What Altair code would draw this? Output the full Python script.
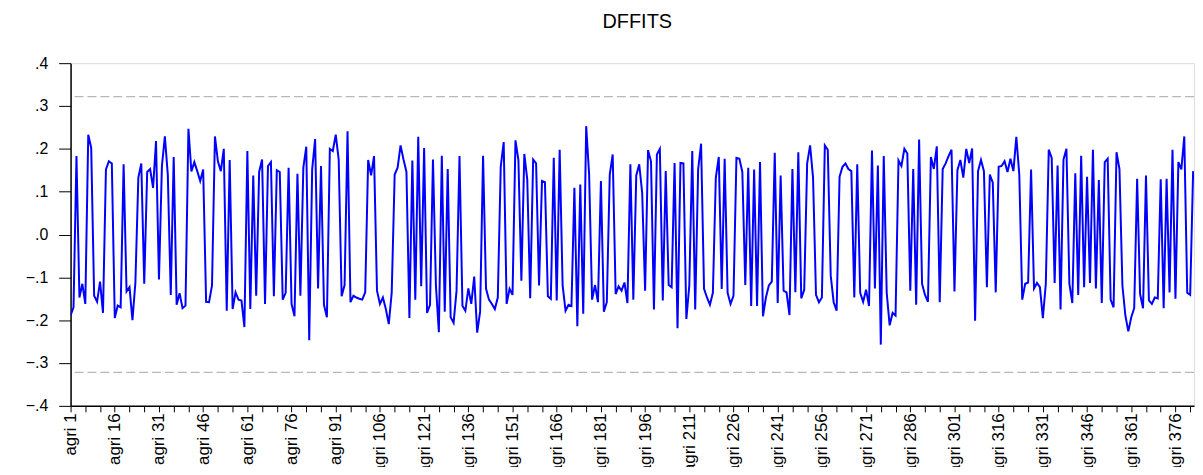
import altair as alt
import pandas as pd

dffits_a = [-0.189, -0.17, 0.183, -0.147, -0.115, -0.162, 0.233, 0.202, -0.143, -0.157,
            -0.11, -0.183, 0.152, 0.171, 0.166, -0.195, -0.166, -0.17, 0.164, -0.133,
            -0.123, -0.2, -0.112, 0.133, 0.166, -0.115, 0.146, 0.153, 0.109, 0.218,
            -0.105, 0.16]
dffits_b = [0.229, 0.14, -0.141, 0.181, -0.164, -0.137, -0.172, -0.166, 0.247, 0.147,
            0.169, 0.148, 0.125, 0.152, -0.157, -0.158, -0.119, 0.229, 0.171, 0.148,
            0.2, -0.178, 0.174, -0.174, -0.135, -0.152, -0.154, -0.216, 0.195, -0.174,
            0.138, -0.143, 0.146, 0.175]
dffits_c = [-0.162, 0.16, 0.169, -0.144, 0.15, 0.146, -0.152, -0.136, 0.156, -0.162,
            -0.191, 0.142, -0.143, 0.156, 0.205, -0.247, 0.152, 0.223, -0.126, 0.16,
            -0.164, -0.193, 0.2, 0.195, 0.233, 0.175, -0.144, -0.118, 0.241, -0.158,
            -0.143, -0.147, -0.15]
dffits_d = [-0.152, -0.135, 0.174, 0.138, 0.183, -0.131, -0.162, -0.147, -0.174, -0.209,
            -0.135, 0.14, 0.156, 0.208, 0.175, 0.146, -0.195, 0.173, -0.152, 0.228,
            -0.121, 0.202, -0.183, -0.164, 0.175, -0.119, -0.228, 0.184, -0.18, 0.153,
            -0.193, -0.206, -0.131, 0.183, -0.166]
dffits_e = [-0.178, -0.126, -0.162, -0.098, -0.229, -0.18, 0.184, -0.126, -0.152,
            -0.162, -0.174, -0.147, 0.158, 0.216, -0.162, -0.127, -0.141, 0.22, 0.174,
            -0.108, 0.188, 0.129, -0.149, 0.175, 0.166, -0.119, 0.125, 0.122, -0.144,
            -0.15, 0.179, -0.154, 0.198]
dffits_f = [-0.118, -0.178, -0.164, -0.167, 0.109, -0.214, 0.117, -0.185, 0.253, 0.14,
            -0.152, -0.118, -0.158, 0.125, -0.18, -0.158, 0.14, 0.187, -0.139, -0.121,
            -0.131, -0.112, -0.16, 0.164, -0.152, 0.138, 0.164, 0.098, -0.131, 0.197,
            0.171, -0.175, 0.187, 0.2]
dffits_g = [-0.154, 0.148, -0.118, -0.123, 0.167, -0.219, 0.167, 0.166, -0.197, -0.119,
            0.195, -0.175, 0.152, 0.212, -0.127, -0.147, -0.164, -0.136, 0.133, 0.181,
            -0.127, 0.177, -0.136, -0.162, -0.143, 0.179, 0.177, 0.146, -0.118, 0.156,
            -0.167, 0.152]
dffits_h = [-0.167, 0.169, -0.191, -0.147, -0.119, -0.11, 0.191, -0.16, 0.138,
            -0.131, -0.135, -0.188, 0.153, -0.135, 0.192, -0.149, -0.129, 0.166, 0.208,
            0.133, -0.141, -0.158, -0.147, 0.208, 0.198, -0.096, -0.158, -0.178, 0.135,
            0.158, 0.166, 0.153, 0.148, -0.147]
dffits_i = [0.164, -0.136, -0.157, -0.129, -0.167, 0.196, -0.126, 0.161, -0.257, 0.183,
            -0.136, -0.212, -0.183, -0.189, 0.173, 0.16, 0.2, 0.189, -0.131, 0.153,
            -0.164, 0.222, -0.115, -0.141, -0.157, 0.181, 0.153, 0.206, -0.158, 0.153,
            0.166, 0.183, 0.198, -0.133]
dffits_j = [0.15, 0.174, 0.133, 0.2, 0.167, 0.201, -0.201, 0.148, 0.174, 0.148,
            -0.123, 0.14, 0.121, -0.135, 0.158, 0.16, 0.171, 0.146, 0.177, 0.148,
            0.228, 0.14, -0.152, -0.115, -0.112, 0.152, -0.126, -0.113, -0.123, -0.195,
            -0.115, 0.198, 0.179, -0.113]
dffits_k = [0.161, -0.175, 0.175, 0.2, -0.115, -0.16, 0.143, -0.141, 0.184, -0.123,
            0.135, -0.113, 0.198, -0.126, 0.127, -0.16, 0.169, 0.177, -0.152, -0.17,
            0.192, 0.153, -0.119, -0.189, -0.226, -0.193, -0.172, 0.13, -0.139, -0.172,
            0.138, -0.154, -0.162, -0.147, -0.149, 0.129, -0.172, 0.13, -0.135, 0.198,
            -0.15, 0.169, 0.152, 0.229, -0.136, -0.141, 0.148]

band_values = [0.322, -0.322]          # +/- critical value lines
label_prefix = "agri"
y_ticks = [-0.4, -0.3, -0.2, -0.1, 0.0, 0.1, 0.2, 0.3, 0.4]
x_last = 382.3

values = (dffits_a + dffits_b + dffits_c + dffits_d + dffits_e + dffits_f +
          dffits_g + dffits_h + dffits_i + dffits_j + dffits_k)
obs = list(range(1, len(values) + 1))
df = pd.DataFrame({"obs": obs, "dffits": values,
                   "label": [f"{label_prefix} {i}" for i in obs]})
band_df = pd.DataFrame({"y": band_values})

FONT = "Liberation Sans"
x_scale = alt.Scale(domain=[1, x_last], nice=False, zero=False)
y_scale = alt.Scale(domain=[-0.4, 0.4], nice=False, zero=False)

x_axis = alt.Axis(
    values=list(range(1, 382, 5)),
    labelExpr=f"(datum.value - 1) % 15 == 0 ? '{label_prefix} ' + datum.value : ''",
    labelAngle=-90, labelAlign="right", labelBaseline="middle",
    labelFont=FONT, labelFontSize=17, labelColor="black", labelPadding=1,
    tickSize=6, tickColor="black", domainColor="black", domainWidth=1.5,
    grid=False, title=None, labelOverlap=False, labelFlush=False,
)
y_axis = alt.Axis(
    values=y_ticks,
    labelExpr="replace(format(datum.value, '.1f'), '0.', '.')",
    labelFont=FONT, labelFontSize=16, labelColor="black", labelPadding=11,
    tickSize=12, tickColor="black", domainColor="black", domainWidth=1.5,
    grid=False, title=None, labelOverlap=False, labelFlush=False,
)

rules = alt.Chart(band_df).mark_rule(
    color="#b8b8b8", strokeDash=[9, 4], strokeWidth=1.3
).encode(y=alt.Y("y:Q", scale=y_scale, axis=y_axis))

line = alt.Chart(df).mark_line(color="#0000ff", strokeWidth=2, clip=True).encode(
    x=alt.X("obs:Q", scale=x_scale, axis=x_axis),
    y=alt.Y("dffits:Q", scale=y_scale, axis=y_axis),
)

chart = alt.layer(rules, line).properties(
    width=1131, height=345,
    autosize=alt.AutoSizeParams(type="none"),
    padding={"left": 63, "top": 54, "right": 1, "bottom": 60},
    title=alt.TitleParams("DFFITS", font=FONT, fontSize=20, fontWeight="normal",
                          color="black", anchor="middle", offset=23, dx=5),
).configure_view(stroke=None).configure(background="white")

chart.save("out.html", embed_options={"renderer": "svg", "actions": False})
